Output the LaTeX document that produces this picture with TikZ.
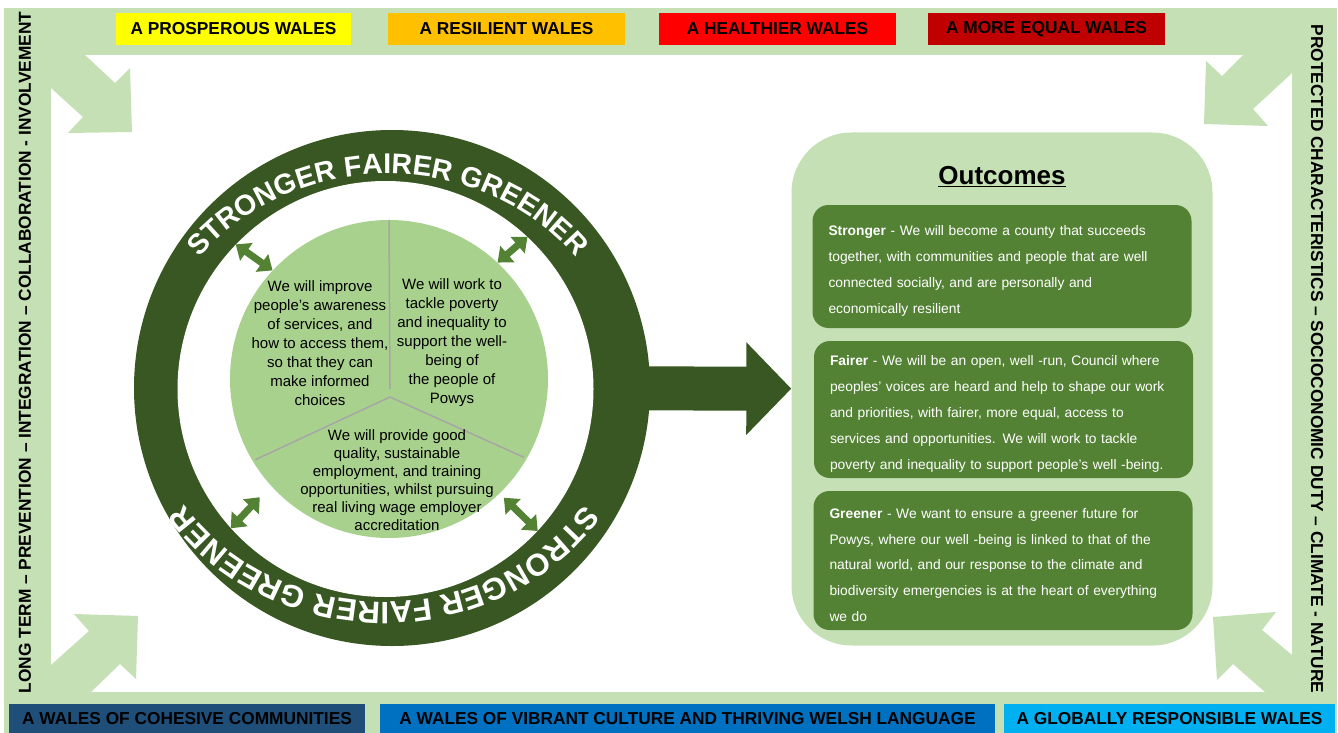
\documentclass[tikz,border=0pt]{standalone}
\usepackage{fontspec}
\setmainfont{Liberation Sans}
\usepackage{tikz}
\usetikzlibrary{arrows.meta,decorations.text,positioning}
\definecolor{pale}{HTML}{C5E0B4}
\definecolor{ringgreen}{HTML}{385723}
\definecolor{leaf}{HTML}{548235}
\definecolor{core}{HTML}{A9D18E}
\definecolor{divider}{HTML}{A6A6A6}
\definecolor{wyellow}{HTML}{FFFF00}
\definecolor{worange}{HTML}{FFC000}
\definecolor{wred}{HTML}{FF0000}
\definecolor{wdarkred}{HTML}{C00000}
\definecolor{wnavy}{HTML}{1F4E79}
\definecolor{wblue}{HTML}{0070C0}
\definecolor{wsky}{HTML}{00B0F0}
\tikzset{goal/.style={rectangle,fill=#1,inner sep=0pt,minimum height=32pt,font=\fontsize{17.3}{17.3}\selectfont\bfseries},
  side/.style={inner sep=0pt,font=\fontsize{17.3}{17.3}\selectfont\bfseries},
  pillar/.style={align=center,inner sep=0pt,font=\fontsize{15}{19}\selectfont},
  outcome/.style={rectangle,rounded corners=16pt,fill=leaf,text=white,minimum width=379pt,text width=347pt,align=left,inner sep=0pt,font=\fontsize{13.8}{25.8}\selectfont,execute at begin node=\rule{0pt}{19pt}},
  twoway/.style={leaf,line width=7pt,{Triangle[width=21pt,length=13pt]}-{Triangle[width=21pt,length=13pt]}},
  ringtext/.style={decorate,decoration={text along path,text align=center,text color=white,text={|\fontsize{#1}{#1}\selectfont\bfseries|STRONGER FAIRER GREENER}}}}

\begin{document}
\begin{tikzpicture}[x=1pt,y=-1pt]
    \useasboundingbox (0,0) rectangle (1338,733);
    % frame and corner arrows
    \fill[pale] (4,8) rectangle (1337,733);
    \fill[white] (51,55) rectangle (1292,692);
    \fill[pale] (51,55) -- (85,55) -- (115,83) -- (130,68) -- (132,132) -- (68,133) -- (83,117) -- (51,88) -- cycle;
    \fill[pale] (1292,55) -- (1243,55) -- (1222,76) -- (1206,61) -- (1204,124) -- (1268,126) -- (1253,109) -- (1292,73) -- cycle;
    \fill[pale] (51,692) -- (51,665) -- (89,631) -- (74,614) -- (138,616) -- (136,679) -- (120,664) -- (91,692) -- cycle;
    \fill[pale] (1292,692) -- (1265,692) -- (1233,664) -- (1217,680) -- (1213,617) -- (1276,612) -- (1262,630) -- (1292,655) -- cycle;

    \node[goal=wyellow,minimum width=235pt] (prosperous) at (233.5,29) {A PROSPEROUS WALES};
    \node[goal=worange,minimum width=237pt] (resilient) at (506.5,29) {A RESILIENT WALES};
    \node[goal=wred,minimum width=237pt] (healthier) at (777.5,29) {A HEALTHIER WALES};
    \node[goal=wdarkred,minimum width=237pt] (equal) at (1046.5,29) {A MORE EQUAL WALES};
    \node[goal=wnavy,minimum width=356pt,minimum height=29pt] (cohesive) at (187,718.5) {A WALES OF COHESIVE COMMUNITIES};
    \node[goal=wblue,minimum width=615pt,minimum height=29pt] (culture) at (687.5,718.5) {A WALES OF VIBRANT CULTURE AND THRIVING WELSH LANGUAGE};
    \node[goal=wsky,minimum width=331pt,minimum height=29pt] (global) at (1169.5,718.5) {A GLOBALLY RESPONSIBLE WALES};

    \node[side,rotate=90] (ways) at (25,352.5) {LONG TERM – PREVENTION – INTEGRATION – COLLABORATION - INVOLVEMENT};
    \node[side,rotate=-90] (duties) at (1317,359) {PROTECTED CHARACTERISTICS – SOCIOCONOMIC DUTY – CLIMATE - NATURE};

    % outcomes panel
    \node[rectangle,rounded corners=60pt,fill=pale,minimum width=421pt,minimum height=513pt] (outcomes) at (1002,389) {};
    \node[font=\fontsize{26}{26}\selectfont\bfseries] (title) at (1002,177) {\underline{Outcomes}};
    \node[outcome,minimum height=123pt] (stronger) at (1002,266.5) {\textbf{Stronger} - We will become a county that succeeds\\together, with communities and people that are well\\connected socially, and are personally and\\economically resilient};
    \node[outcome,minimum height=137pt] (fairer) at (1003.5,409.5) {\textbf{Fairer} - We will be an open, well -run, Council where\\peoples' voices are heard and help to shape our work\\and priorities, with fairer, more equal, access to\\services and opportunities. We will work to tackle\\poverty and inequality to support people's well -being.};
    \node[outcome,minimum height=139pt] (greener) at (1003,560.5) {\textbf{Greener} - We want to ensure a greener future for\\Powys, where our well -being is linked to that of the\\natural world, and our response to the climate and\\biodiversity emergencies is at the heart of everything\\we do};

    % ring and core
    \node[circle,fill=ringgreen,minimum size=516pt,inner sep=0pt] (ring) at (392,388) {};
    \draw[ringgreen,line width=44pt,shorten <=-8pt,-{Triangle[width=90pt,length=45pt]}] (ring) -- (outcomes);
    \node[circle,fill=white,minimum size=416pt,inner sep=0pt] (gap) at (385.5,389) {};
    \node[circle,fill=core,minimum size=318pt,inner sep=0pt] (core) at (389,379) {};
    \coordinate (stem) at (390,389);
    \coordinate (hub) at (390,397);
    \coordinate (arch) at (388,388);
    \draw[divider,line width=1.5pt] (core.north) -- (stem);
    \draw[divider,line width=1.5pt,shorten >=3pt] (hub) -- (core.211);
    \draw[divider,line width=1.5pt,shorten >=3pt] (hub) -- (core.330);

    \node[pillar] (awareness) at (320,343) {We will improve\\people’s awareness\\of services, and\\how to access them,\\so that they can\\make informed\\choices};
    \node[pillar] (poverty) at (452,343) {We will work to\\tackle poverty\\and inequality to\\support the well-\\being of\\the people of\\Powys};
    \node[pillar,font=\fontsize{15}{18}\selectfont] (employment) at (397,480) {We will provide good\\quality, sustainable\\employment, and training\\opportunities, whilst pursuing\\real living wage employer\\accreditation};

    \draw[twoway] (core.137) -- (gap.136);
    \draw[twoway] (core.47) -- (gap.47);
    \draw[twoway,shorten <=16pt] (core.222) -- (gap.222);
    \draw[twoway,shorten <=6pt] (core.314) -- (gap.317);

    \path[ringtext=28.5] (arch) ++(170:237pt and 214pt) arc[start angle=170,end angle=10,x radius=237pt,y radius=214pt];
    \path[ringtext=31] ([xshift=-4pt]arch) ++(-8:238pt and 214pt) arc[start angle=-8,end angle=-172,x radius=238pt,y radius=214pt];
\end{tikzpicture}
\end{document}
